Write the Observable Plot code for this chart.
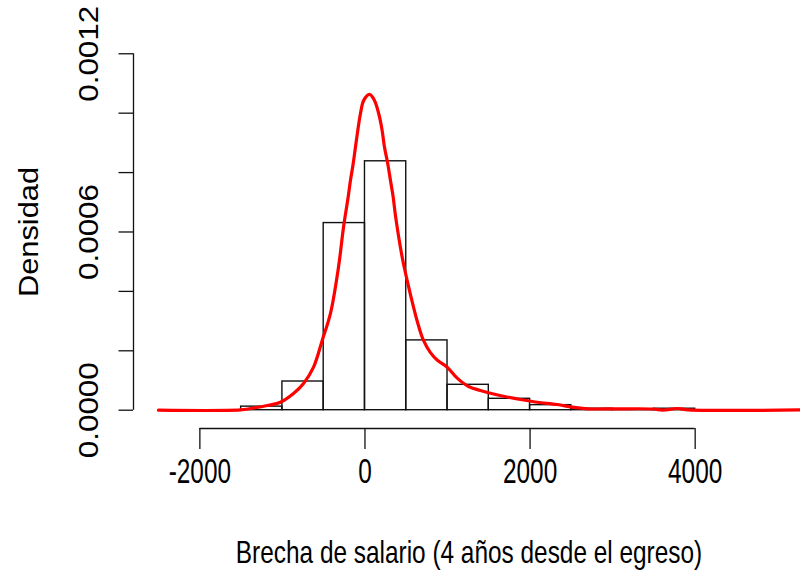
<!DOCTYPE html>
<html><head><meta charset="utf-8">
<script src="https://cdn.jsdelivr.net/npm/d3@7"></script>
<script src="https://cdn.jsdelivr.net/npm/@observablehq/plot@0.6"></script>
<style>html,body{margin:0;padding:0;background:#fff;} svg{display:block;}</style>
</head><body>
<div id="chart"></div>
<script>
// Histogram bins (start of each 500-wide bin) and densities
const binStart = [-1500, -1000, -500, 0, 500, 1000, 1500, 2000, 2500, 3000, 3500];
const binWidth = 500;
const binDensity = [0.000012, 0.0000966, 0.00063, 0.000838, 0.000235, 0.0000855, 0.0000384, 0.000017, 0.000005, 0.000003, 0.000005];

// Kernel density curve
const densX = [-2502, -1508, -1387, -1185, -1024, -866, -744, -623, -518, -418, -321, -260, -204, -176, -143, -115, -87, -55, -15, 55, 115, 167, 208, 236, 276, 309, 342, 369, 451, 511, 588, 648, 709, 793, 878, 999, 1121, 1254, 1399, 1557, 1678, 1884, 2086, 2328, 2510, 2695, 3095, 3495, 3604, 3786, 3920, 5276];
const densY = [0, 0.000001, 0.0000057, 0.0000158, 0.0000269, 0.0000562, 0.0000899, 0.000145, 0.000235, 0.000326, 0.000481, 0.000616, 0.000717, 0.000773, 0.000830, 0.000886, 0.000942, 0.000998, 0.001043, 0.001063, 0.001043, 0.000998, 0.000942, 0.000886, 0.000830, 0.000773, 0.000717, 0.000656, 0.000515, 0.000437, 0.000347, 0.000285, 0.000235, 0.000194, 0.000168, 0.000144, 0.000107, 0.0000798, 0.0000663, 0.0000545, 0.0000471, 0.000036, 0.0000269, 0.0000192, 0.0000101, 0.0000047, 0.0000047, 0.000004, 0.0000005, 0.0000057, 0.000001, 0.000001];

const xTicks = [-2000, 0, 2000, 4000];
const yTicks = [0, 0.0002, 0.0004, 0.0006, 0.0008, 0.0010, 0.0012];
const yLabelTicks = [0, 0.0006, 0.0012];
const xTitle = "Brecha de salario (4 años desde el egreso)";
const yTitle = "Densidad";

const xDomain = [-2804, 5276];
const yDomain = [-0.0000616, 0.001312];

const bins = binStart.map((lo, i) => ({lo, hi: lo + binWidth, d: binDensity[i]}));
const dens = densX.map((x, i) => ({x, y: densY[i]}));
const yMid = (yTicks[0] + yTicks[yTicks.length - 1]) / 2;

const ink = "#111";
const chart = Plot.plot({
  width: 800, height: 574,
  marginLeft: 133, marginRight: 0, marginTop: 20, marginBottom: 146,
  style: {fontFamily: "'Liberation Sans', Arial, sans-serif", background: "#fff", color: "#000"},
  x: {domain: xDomain, label: null},
  y: {domain: yDomain, label: null},
  marks: [
    Plot.rectY(bins, {x1: "lo", x2: "hi", y: "d", fill: "none", stroke: ink, strokeWidth: 1.4}),
    Plot.line(dens, {x: "x", y: "y", stroke: "#ff0000", strokeWidth: 3.2, curve: "catmull-rom"}),
    Plot.ruleX([xDomain[0]], {y1: yTicks[0], y2: yTicks[yTicks.length - 1], stroke: ink, strokeWidth: 1.3}),
    Plot.axisY({ticks: yTicks, tickSize: 14.5, tickFormat: () => "", label: null, stroke: ink, strokeWidth: 1.3}),
    Plot.ruleY([yDomain[0]], {x1: xTicks[0], x2: xTicks[xTicks.length - 1], stroke: ink, strokeWidth: 1.6}),
    Plot.axisX({ticks: xTicks, tickSize: 21, tickFormat: () => "", label: null, stroke: ink, strokeWidth: 1.3}),
    Plot.text(xTicks, {x: d => d, frameAnchor: "bottom", dy: 54, text: d => String(d), fontSize: 24.4, fill: "#000"}),
    Plot.text(yLabelTicks, {y: d => d, frameAnchor: "left", textAnchor: "middle", dx: -44, rotate: -90, text: d => d.toFixed(4), fontSize: 28, fill: "#000"}),
    Plot.text([xTitle], {frameAnchor: "bottom", dx: 2, dy: 134.8, text: d => d, fontSize: 24.4, fill: "#000"}),
    Plot.text([yTitle], {y: () => yMid, frameAnchor: "left", textAnchor: "middle", dx: -104, rotate: -90, text: d => d, fontSize: 28, fill: "#000"})
  ]
});

// The reference picture is stretched vertically; mimic it on the text glyphs.
chart.querySelectorAll("text").forEach(el => {
  const txt = el.textContent;
  if (!txt) return;
  const tr = el.getAttribute("transform") || "";
  let s;
  if (tr.includes("rotate")) s = txt === yTitle ? "scale(1.1,1)" : "scale(1.12,1)";
  else s = txt === xTitle ? "scale(1,1.3)" : "scale(1,1.42)";
  el.setAttribute("transform", (tr + " " + s).trim());
});

document.getElementById("chart").appendChild(chart);
</script>
</body></html>
